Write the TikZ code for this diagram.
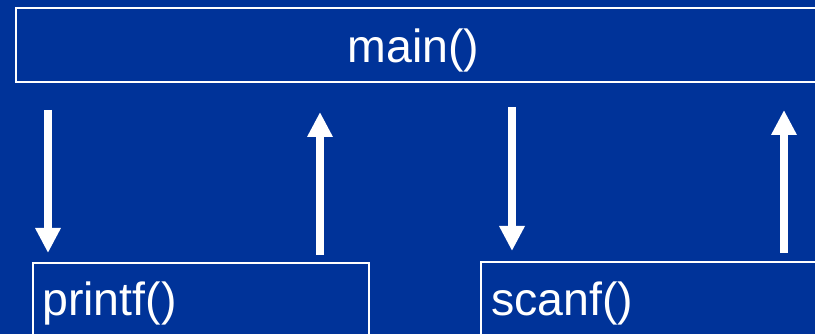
\documentclass[tikz,border=0pt]{standalone}
\usepackage{fontspec}
\setmainfont{Liberation Sans}
\usetikzlibrary{arrows.meta}
\definecolor{bg}{HTML}{003399}
\tikzset{
  box/.style={draw=white, line width=2pt, fill=none, rectangle, inner sep=0pt, anchor=north west},
  lbl/.style={text=white, inner sep=0pt, font=\fontsize{46.5}{56}\selectfont},
  flow/.style={draw=white, line width=8pt, -{Triangle[width=24pt,length=25pt]}}
}
\begin{document}
\begin{tikzpicture}[x=1pt,y=-1pt]
\fill[bg] (0,0) rectangle (815,334);
\useasboundingbox (0,0) rectangle (815,334);
\clip (0,0) rectangle (815,334);
\node[box, minimum width=900pt, minimum height=74pt] (main) at (15,7) {};
\node[lbl, anchor=base] (maint) at (413.5,63) {main()};
\node[box, minimum width=336pt, minimum height=100pt] (printf) at (32,262) {};
\node[lbl, anchor=base west] (printft) at (42,316) {printf()};
\node[box, minimum width=400pt, minimum height=100pt] (scanf) at (480,261) {};
\node[lbl, anchor=base west] (scanft) at (491,316) {scanf()};
\coordinate (a1s) at (48,110);
\coordinate (a1e) at (48,253);
\coordinate (a2s) at (320,255);
\coordinate (a2e) at (320,112);
\coordinate (a3s) at (512,107);
\coordinate (a3e) at (512,251);
\coordinate (a4s) at (784,253);
\coordinate (a4e) at (784,110);
\draw[flow] (a1s) -- (a1e);
\draw[flow] (a2s) -- (a2e);
\draw[flow] (a3s) -- (a3e);
\draw[flow] (a4s) -- (a4e);
\end{tikzpicture}
\end{document}
